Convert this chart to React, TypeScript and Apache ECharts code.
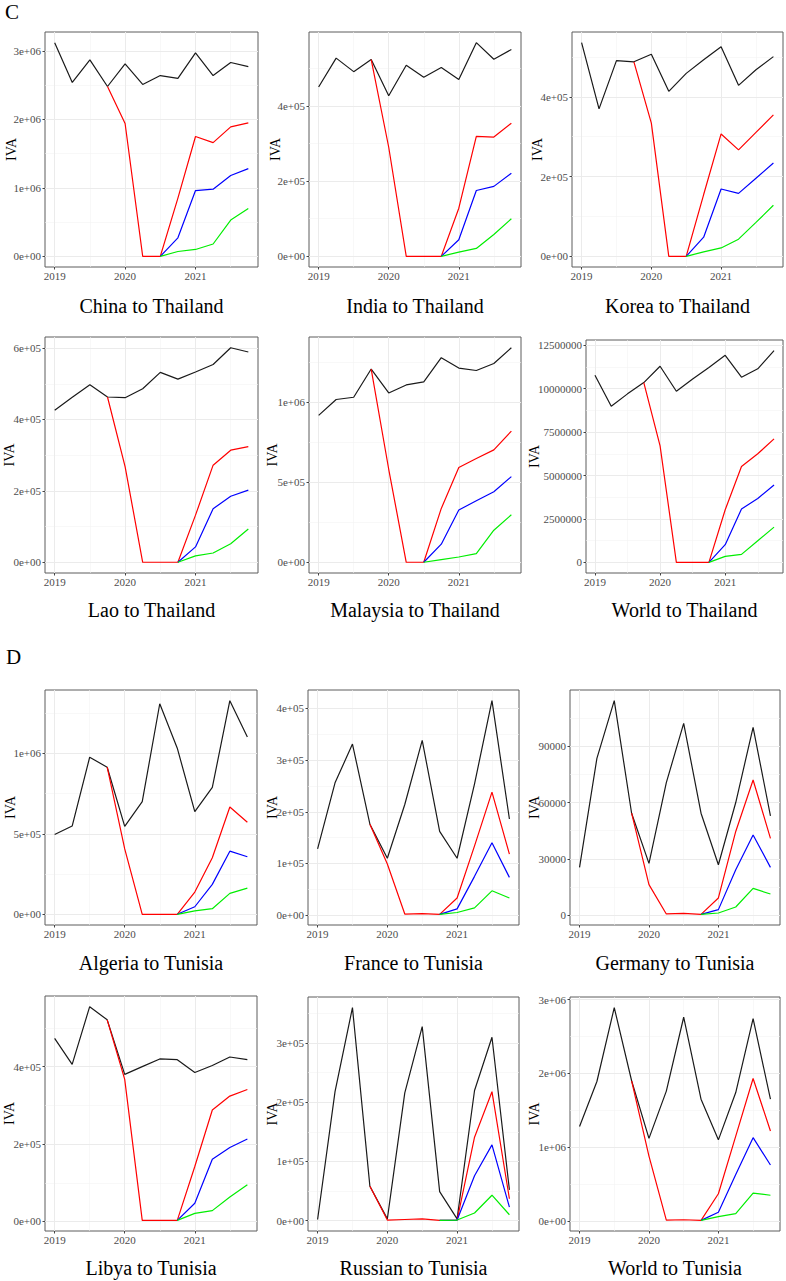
import React, { useEffect, useRef } from "react";
import * as echarts from "echarts";

// ---------- data ----------
const quarters = [2019, 2019.25, 2019.5, 2019.75, 2020, 2020.25, 2020.5, 2020.75, 2021, 2021.25, 2021.5, 2021.75];
const xTicks = [2019, 2020, 2021];
const xTickLabels = ["2019", "2020", "2021"];

const titles = [
  "China to Thailand", "India to Thailand", "Korea to Thailand",
  "Lao to Thailand", "Malaysia to Thailand", "World to Thailand",
  "Algeria to Tunisia", "France to Tunisia", "Germany to Tunisia",
  "Libya to Tunisia", "Russian to Tunisia", "World to Tunisia",
];

const n = null;

// China to Thailand
const chinaBlack = [3120000, 2540000, 2870000, 2480000, 2810000, 2510000, 2640000, 2600000, 2970000, 2640000, 2830000, 2770000];
const chinaRed = [n, n, n, 2480000, 1940000, 0, 0, 850000, 1750000, 1660000, 1890000, 1950000];
const chinaBlue = [n, n, n, n, n, n, 0, 270000, 960000, 980000, 1180000, 1280000];
const chinaGreen = [n, n, n, n, n, n, 0, 70000, 100000, 180000, 530000, 700000];
const chinaTicks = [0, 1000000, 2000000, 3000000];
const chinaLabels = ["0e+00", "1e+06", "2e+06", "3e+06"];

// India to Thailand
const indiaBlack = [450000, 527000, 491000, 523000, 427000, 508000, 476000, 502000, 470000, 568000, 524000, 550000];
const indiaRed = [n, n, n, 523000, 290000, 0, 0, 0, 128000, 319000, 317000, 354000];
const indiaBlue = [n, n, n, n, n, n, n, 0, 44000, 175000, 186000, 221000];
const indiaGreen = [n, n, n, n, n, n, n, 0, 11000, 21000, 58000, 100000];
const indiaTicks = [0, 200000, 400000];
const indiaLabels = ["0e+00", "2e+05", "4e+05"];

// Korea to Thailand
const koreaBlack = [536000, 370000, 491000, 488000, 507000, 414000, 459000, 493000, 526000, 429000, 468000, 501000];
const koreaRed = [n, n, n, 488000, 334000, 0, 0, 155000, 307000, 267000, 311000, 355000];
const koreaBlue = [n, n, n, n, n, n, 0, 48000, 169000, 158000, 196000, 234000];
const koreaGreen = [n, n, n, n, n, n, 0, 11000, 21000, 43000, 85000, 128000];
const koreaTicks = [0, 200000, 400000];
const koreaLabels = ["0e+00", "2e+05", "4e+05"];

// Lao to Thailand
const laoBlack = [426000, 462000, 497000, 463000, 461000, 486000, 532000, 513000, 533000, 554000, 601000, 589000];
const laoRed = [n, n, n, 463000, 268000, 0, 0, 0, 132000, 272000, 314000, 324000];
const laoBlue = [n, n, n, n, n, n, n, 0, 43000, 150000, 185000, 202000];
const laoGreen = [n, n, n, n, n, n, n, 0, 18000, 26000, 52000, 93000];
const laoTicks = [0, 200000, 400000, 600000];
const laoLabels = ["0e+00", "2e+05", "4e+05", "6e+05"];

// Malaysia to Thailand
const malaysiaBlack = [916000, 1015000, 1029000, 1205000, 1056000, 1106000, 1125000, 1276000, 1211000, 1196000, 1240000, 1338000];
const malaysiaRed = [n, n, n, 1205000, 580000, 0, 0, 336000, 591000, 647000, 701000, 818000];
const malaysiaBlue = [n, n, n, n, n, n, 0, 113000, 326000, 384000, 440000, 534000];
const malaysiaGreen = [n, n, n, n, n, n, 0, 17000, 33000, 54000, 200000, 296000];
const malaysiaTicks = [0, 500000, 1000000];
const malaysiaLabels = ["0e+00", "5e+05", "1e+06"];

// World to Thailand
const worldThBlack = [10770000, 8990000, 9700000, 10350000, 11290000, 9850000, 10550000, 11220000, 11920000, 10660000, 11140000, 12190000];
const worldThRed = [n, n, n, 10350000, 6710000, 0, 0, 0, 3030000, 5520000, 6250000, 7110000];
const worldThBlue = [n, n, n, n, n, n, n, 0, 1020000, 3070000, 3680000, 4450000];
const worldThGreen = [n, n, n, n, n, n, n, 0, 350000, 460000, 1250000, 2030000];
const worldThTicks = [0, 2500000, 5000000, 7500000, 10000000, 12500000];
const worldThLabels = ["0", "2500000", "5000000", "7500000", "10000000", "12500000"];

// Algeria to Tunisia
const algeriaBlack = [495000, 548000, 975000, 913000, 546000, 699000, 1307000, 1031000, 637000, 788000, 1326000, 1101000];
const algeriaRed = [n, n, n, 913000, 406000, 0, 0, 0, 138000, 351000, 666000, 571000];
const algeriaBlue = [n, n, n, n, n, n, n, 0, 47000, 186000, 392000, 357000];
const algeriaGreen = [n, n, n, n, n, n, n, 0, 21000, 35000, 130000, 163000];
const algeriaTicks = [0, 500000, 1000000];
const algeriaLabels = ["0e+00", "5e+05", "1e+06"];

// France to Tunisia
const franceBlack = [128000, 256000, 331000, 176000, 110000, 214000, 338000, 162000, 110000, 254000, 415000, 186000];
const franceRed = [n, n, n, 176000, 99000, 2000, 3000, 1500, 33000, 134000, 238000, 118000];
const franceBlue = [n, n, n, n, n, n, n, 1500, 12000, 75000, 140000, 73000];
const franceGreen = [n, n, n, n, n, n, n, 1500, 5000, 14000, 47000, 33000];
const franceTicks = [0, 100000, 200000, 300000, 400000];
const franceLabels = ["0e+00", "1e+05", "2e+05", "3e+05", "4e+05"];

// Germany to Tunisia
const germanyBlack = [25500, 83500, 114200, 54300, 27600, 70600, 102100, 54300, 26900, 60000, 100000, 52900];
const germanyRed = [n, n, n, 54300, 16300, 700, 1000, 500, 9200, 44600, 72000, 40900];
const germanyBlue = [n, n, n, n, n, n, n, 500, 3000, 24200, 42700, 25500];
const germanyGreen = [n, n, n, n, n, n, n, 500, 1200, 4400, 14300, 11300];
const germanyTicks = [0, 30000, 60000, 90000];
const germanyLabels = ["0", "30000", "60000", "90000"];

// Libya to Tunisia
const libyaBlack = [473000, 406000, 555000, 521000, 380000, 400000, 420000, 418000, 385000, 403000, 425000, 418000];
const libyaRed = [n, n, n, 521000, 367000, 3000, 3000, 3000, 142000, 288000, 324000, 341000];
const libyaBlue = [n, n, n, n, n, n, n, 3000, 47000, 161000, 191000, 213000];
const libyaGreen = [n, n, n, n, n, n, n, 3000, 21000, 28000, 63000, 95000];
const libyaTicks = [0, 200000, 400000];
const libyaLabels = ["0e+00", "2e+05", "4e+05"];

// Russian to Tunisia
const russiaBlack = [2000, 218000, 360000, 58000, 3000, 216000, 328000, 49000, 3000, 220000, 310000, 52000];
const russiaRed = [n, n, n, 58000, 1000, 2000, 3000, 500, 1000, 141000, 218000, 37000];
const russiaBlue = [n, n, n, n, n, n, n, 500, 1000, 76000, 128000, 23000];
const russiaGreen = [n, n, n, n, n, n, n, 500, 1000, 13000, 43000, 10000];
const russiaTicks = [0, 100000, 200000, 300000];
const russiaLabels = ["0e+00", "1e+05", "2e+05", "3e+05"];

// World to Tunisia
const worldTnBlack = [1280000, 1890000, 2890000, 1900000, 1120000, 1760000, 2760000, 1650000, 1100000, 1740000, 2740000, 1650000];
const worldTnRed = [n, n, n, 1900000, 880000, 14000, 18000, 10000, 370000, 1150000, 1930000, 1220000];
const worldTnBlue = [n, n, n, n, n, n, n, 10000, 120000, 630000, 1130000, 760000];
const worldTnGreen = [n, n, n, n, n, n, n, 10000, 60000, 100000, 380000, 350000];
const worldTnTicks = [0, 1000000, 2000000, 3000000];
const worldTnLabels = ["0e+00", "1e+06", "2e+06", "3e+06"];

const panelSeries = [
  [chinaBlack, chinaRed, chinaBlue, chinaGreen],
  [indiaBlack, indiaRed, indiaBlue, indiaGreen],
  [koreaBlack, koreaRed, koreaBlue, koreaGreen],
  [laoBlack, laoRed, laoBlue, laoGreen],
  [malaysiaBlack, malaysiaRed, malaysiaBlue, malaysiaGreen],
  [worldThBlack, worldThRed, worldThBlue, worldThGreen],
  [algeriaBlack, algeriaRed, algeriaBlue, algeriaGreen],
  [franceBlack, franceRed, franceBlue, franceGreen],
  [germanyBlack, germanyRed, germanyBlue, germanyGreen],
  [libyaBlack, libyaRed, libyaBlue, libyaGreen],
  [russiaBlack, russiaRed, russiaBlue, russiaGreen],
  [worldTnBlack, worldTnRed, worldTnBlue, worldTnGreen],
];
const panelTicks = [chinaTicks, indiaTicks, koreaTicks, laoTicks, malaysiaTicks, worldThTicks, algeriaTicks, franceTicks, germanyTicks, libyaTicks, russiaTicks, worldTnTicks];
const panelLabels = [chinaLabels, indiaLabels, koreaLabels, laoLabels, malaysiaLabels, worldThLabels, algeriaLabels, franceLabels, germanyLabels, libyaLabels, russiaLabels, worldTnLabels];

// ---------- layout & style ----------
const layout = [
  { l: 45, t: 32, r: 258, b: 267, iva: 11, ty: 306 },
  { l: 309, t: 32, r: 521, b: 267, iva: 275, ty: 306 },
  { l: 572, t: 32, r: 783, b: 267, iva: 537, ty: 306 },
  { l: 45, t: 337, r: 258, b: 573, iva: 9.5, ty: 610 },
  { l: 309, t: 337, r: 521, b: 573, iva: 272, ty: 610 },
  { l: 586, t: 340, r: 783, b: 573, iva: 534, ty: 610 },
  { l: 45, t: 690, r: 257, b: 925, iva: 10, ty: 963 },
  { l: 308, t: 690, r: 519, b: 925, iva: 272, ty: 963 },
  { l: 570, t: 690, r: 780, b: 925, iva: 534, ty: 963 },
  { l: 45, t: 996, r: 257, b: 1231, iva: 9.5, ty: 1268 },
  { l: 308, t: 997, r: 519, b: 1231, iva: 272, ty: 1268 },
  { l: 570, t: 997, r: 780, b: 1231, iva: 534, ty: 1268 },
];
const lineColors = ["#1a1a1a", "#ff0000", "#0000ff", "#00ee00"];
const FONT = "'Liberation Serif', 'Times New Roman', serif";
const majorGrid = { color: "#ebebeb", width: 1, type: "solid" };
const minorGrid = { color: "#f3f3f3", width: 0.6, type: "solid" };

function minorOf(ticks: number[], lo: number, hi: number) {
  const step = ticks[1] - ticks[0];
  const out: number[] = [];
  const cand = [ticks[0] - step / 2, ...ticks.map((t) => t + step / 2)];
  cand.forEach((v) => {
    if (v > lo && v < hi) out.push(v);
  });
  return out;
}

function labelFor(ticks: number[], labels: string[]) {
  return (v: number) => {
    const i = ticks.findIndex((t) => Math.abs(t - v) <= 1e-6 * Math.max(1, Math.abs(t)));
    return i >= 0 ? labels[i] : "";
  };
}

function buildOption() {
  const xSpan = quarters[quarters.length - 1] - quarters[0];
  const xMin = quarters[0] - 0.05 * xSpan;
  const xMax = quarters[quarters.length - 1] + 0.05 * xSpan;

  const grid: any[] = [];
  const xAxis: any[] = [];
  const yAxis: any[] = [];
  const series: any[] = [];
  const graphic: any[] = [];

  panelSeries.forEach((lines, i) => {
    const g = layout[i];
    const vals: number[] = [];
    lines.forEach((arr) => arr.forEach((v) => { if (v !== null) vals.push(v as number); }));
    const dMin = Math.min(...vals);
    const dMax = Math.max(...vals);
    const pad = 0.05 * (dMax - dMin);
    const yMin = dMin - pad;
    const yMax = dMax + pad;
    const yt = panelTicks[i];

    grid.push({
      left: g.l, top: g.t, width: g.r - g.l, height: g.b - g.t,
      show: true, borderColor: "#5c5c5c", borderWidth: 1, backgroundColor: "transparent",
      containLabel: false,
    });
    xAxis.push({
      type: "value", gridIndex: i, min: xMin, max: xMax,
      axisLine: { show: false, onZero: false },
      splitLine: { show: false },
      axisTick: { show: true, customValues: xTicks, length: 2.5, lineStyle: { color: "#444", width: 1 } },
      axisLabel: {
        customValues: xTicks, formatter: labelFor(xTicks, xTickLabels),
        color: "#4d4d4d", fontSize: 11, fontFamily: FONT, margin: 3,
      },
    });
    yAxis.push({
      type: "value", gridIndex: i, min: yMin, max: yMax,
      axisLine: { show: false, onZero: false },
      splitLine: { show: false },
      axisTick: { show: true, customValues: yt, length: 2.5, lineStyle: { color: "#444", width: 1 } },
      axisLabel: {
        customValues: yt, formatter: labelFor(yt, panelLabels[i]),
        color: "#4d4d4d", fontSize: 11, fontFamily: FONT, margin: 4,
      },
    });

    const xMinor = minorOf(xTicks, xMin, xMax);
    const yMinor = minorOf(yt, yMin, yMax);
    series.push({
      type: "line", xAxisIndex: i, yAxisIndex: i, z: 0, silent: true,
      data: [[quarters[0], dMin]], symbol: "none", showSymbol: false,
      lineStyle: { opacity: 0 },
      markLine: {
        z: 0,
        silent: true, symbol: ["none", "none"], label: { show: false },
        lineStyle: majorGrid,
        emphasis: { disabled: true },
        data: [
          ...xMinor.map((v) => ({ xAxis: v, lineStyle: minorGrid })),
          ...yMinor.map((v) => ({ yAxis: v, lineStyle: minorGrid })),
          ...xTicks.map((v) => ({ xAxis: v, lineStyle: majorGrid })),
          ...yt.map((v) => ({ yAxis: v, lineStyle: majorGrid })),
        ],
      },
    });

    lines.forEach((arr, k) => {
      const data: number[][] = [];
      arr.forEach((v, j) => { if (v !== null) data.push([quarters[j], v as number]); });
      series.push({
        type: "line", xAxisIndex: i, yAxisIndex: i, z: 10 + k,
        data, symbol: "none", showSymbol: false, silent: true,
        lineStyle: { color: lineColors[k], width: 1.2 },
        itemStyle: { color: lineColors[k] },
      });
    });

    graphic.push({
      type: "text", x: (g.l + g.r) / 2, y: g.ty,
      style: { text: titles[i], font: `20px ${FONT}`, fill: "#000", align: "center", verticalAlign: "middle" },
    });
    graphic.push({
      type: "text", x: g.iva, y: (g.t + g.b) / 2, rotation: Math.PI / 2,
      style: { text: "IVA", font: `14px ${FONT}`, fill: "#000", align: "center", verticalAlign: "middle" },
    });
  });

  graphic.push({
    type: "text", x: 5, y: 12,
    style: { text: "C", font: `21px ${FONT}`, fill: "#000", align: "left", verticalAlign: "middle" },
  });
  graphic.push({
    type: "text", x: 6, y: 657,
    style: { text: "D", font: `21px ${FONT}`, fill: "#000", align: "left", verticalAlign: "middle" },
  });

  return {
    animation: false,
    backgroundColor: "#ffffff",
    grid, xAxis, yAxis, series, graphic,
  };
}

export default function App() {
  const ref = useRef<HTMLDivElement>(null);
  useEffect(() => {
    document.body.style.margin = "0";
    if (!ref.current) return;
    const chart = echarts.init(ref.current, null, { renderer: "svg" });
    chart.setOption(buildOption() as any);
    return () => chart.dispose();
  }, []);
  return (
    <div
      ref={ref}
      style={{ position: "absolute", left: 0, top: 0, width: 786, height: 1281, background: "#fff" }}
    />
  );
}
